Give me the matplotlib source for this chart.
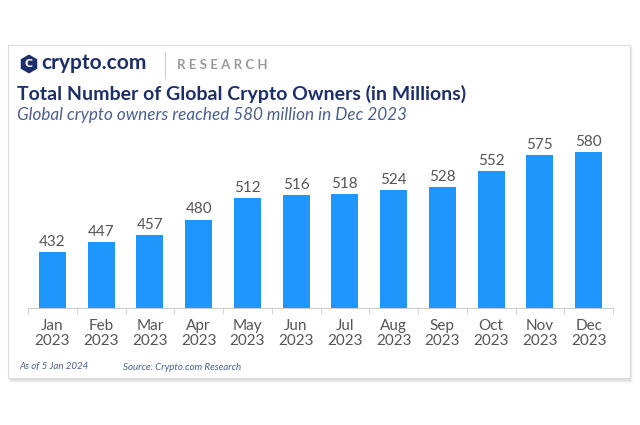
import numpy as np
import matplotlib.pyplot as plt
from matplotlib.patches import FancyBboxPatch, Polygon

months = ['Jan', 'Feb', 'Mar', 'Apr', 'May', 'Jun', 'Jul', 'Aug', 'Sep', 'Oct', 'Nov', 'Dec']
years = ['2023'] * 12
owners = [432, 447, 457, 480, 512, 516, 518, 524, 528, 552, 575, 580]

navy = '#1d2f6b'
blue = '#1e96fc'
grey = '#555555'

fig = plt.figure(figsize=(6.4, 4.25), dpi=100)
fig.patch.set_facecolor('white')

W, H = 640.0, 425.0

def fx(px):
    return px / W

def fy(py):
    return 1 - py / H

# card with soft shadow
for i, a in enumerate([0.05, 0.04, 0.03]):
    fig.patches.append(FancyBboxPatch((fx(9 + i), fy(381 + i)), fx(622), 336 / H,
                                      boxstyle='square,pad=0', transform=fig.transFigure,
                                      facecolor='#000000', alpha=a, edgecolor='none', zorder=0))
fig.patches.append(FancyBboxPatch((fx(8), fy(378)), fx(622), 333 / H,
                                  boxstyle='square,pad=0', transform=fig.transFigure,
                                  facecolor='white', edgecolor='#dcdcdc', lw=0.8, zorder=1))

# logo shield
cx, cy, r = 29, 64, 9.5
ang = np.deg2rad(np.arange(90, 450, 60))
pts = [(fx(cx + r * np.cos(a)), fy(cy - r * np.sin(a))) for a in ang]
fig.patches.append(Polygon(pts, closed=True, transform=fig.transFigure,
                           facecolor=navy, edgecolor='none', zorder=2))
fig.text(fx(cx), fy(cy), 'C', color='white', fontsize=8, fontweight='bold',
         ha='center', va='center', zorder=3)

fig.text(fx(41), fy(63), 'crypto.com', color=navy, fontsize=15, fontweight='bold',
         ha='left', va='center', family='Lato', zorder=3)
fig.add_artist(plt.Line2D([fx(165), fx(165)], [fy(52), fy(78)], color='#cccccc', lw=0.8,
                          transform=fig.transFigure))
fig.text(fx(177), fy(65), 'R E S E A R C H', color='#9a9a9a', fontsize=9.5, fontweight='bold',
         ha='left', va='center', family='Lato')

fig.text(fx(17), fy(94), 'Total Number of Global Crypto Owners (in Millions)', color=navy,
         fontsize=14, fontweight='bold', ha='left', va='center', family='Lato')
fig.text(fx(17), fy(115), 'Global crypto owners reached 580 million in Dec 2023', color='#4a5f8c',
         fontsize=12.3, style='italic', ha='left', va='center', family='Lato')

fig.text(fx(19), fy(367), 'As of 5 Jan 2024', color='#4a5f8c', fontsize=7, style='italic',
         ha='left', va='center', family='Lato')
fig.text(fx(123), fy(367), 'Source: Crypto.com Research', color='#4a5f8c', fontsize=7,
         style='italic', ha='left', va='center', family='Lato')

# bar chart
ax = fig.add_axes([fx(28), fy(308), fx(613) - fx(28), (308 - 135) / H])
ax.set_zorder(5)
x = np.arange(len(months))
bars = ax.bar(x, owners, width=0.55, color=blue, zorder=2)
ax.set_xlim(-0.5, len(months) - 0.5)
ax.set_ylim(350, 605)
for xi, v in zip(x, owners):
    ax.text(xi, v + 5, str(v), ha='center', va='bottom', fontsize=11, color=grey, family='Lato')

ax.set_xticks(x)
ax.set_xticklabels([m + '\n' + y for m, y in zip(months, years)], fontsize=11, color=grey,
                   family='Lato', linespacing=1.1)
ax.set_xticks(np.arange(-0.5, len(months)), minor=True)
ax.tick_params(axis='x', which='major', length=0, pad=8)
ax.tick_params(axis='x', which='minor', length=4, color='#cccccc', direction='out')
ax.set_yticks([])
for s in ['top', 'right', 'left']:
    ax.spines[s].set_visible(False)
ax.spines['bottom'].set_color('#cccccc')
ax.spines['bottom'].set_linewidth(0.8)
ax.patch.set_alpha(0)

fig.savefig('out.png', dpi=100)
